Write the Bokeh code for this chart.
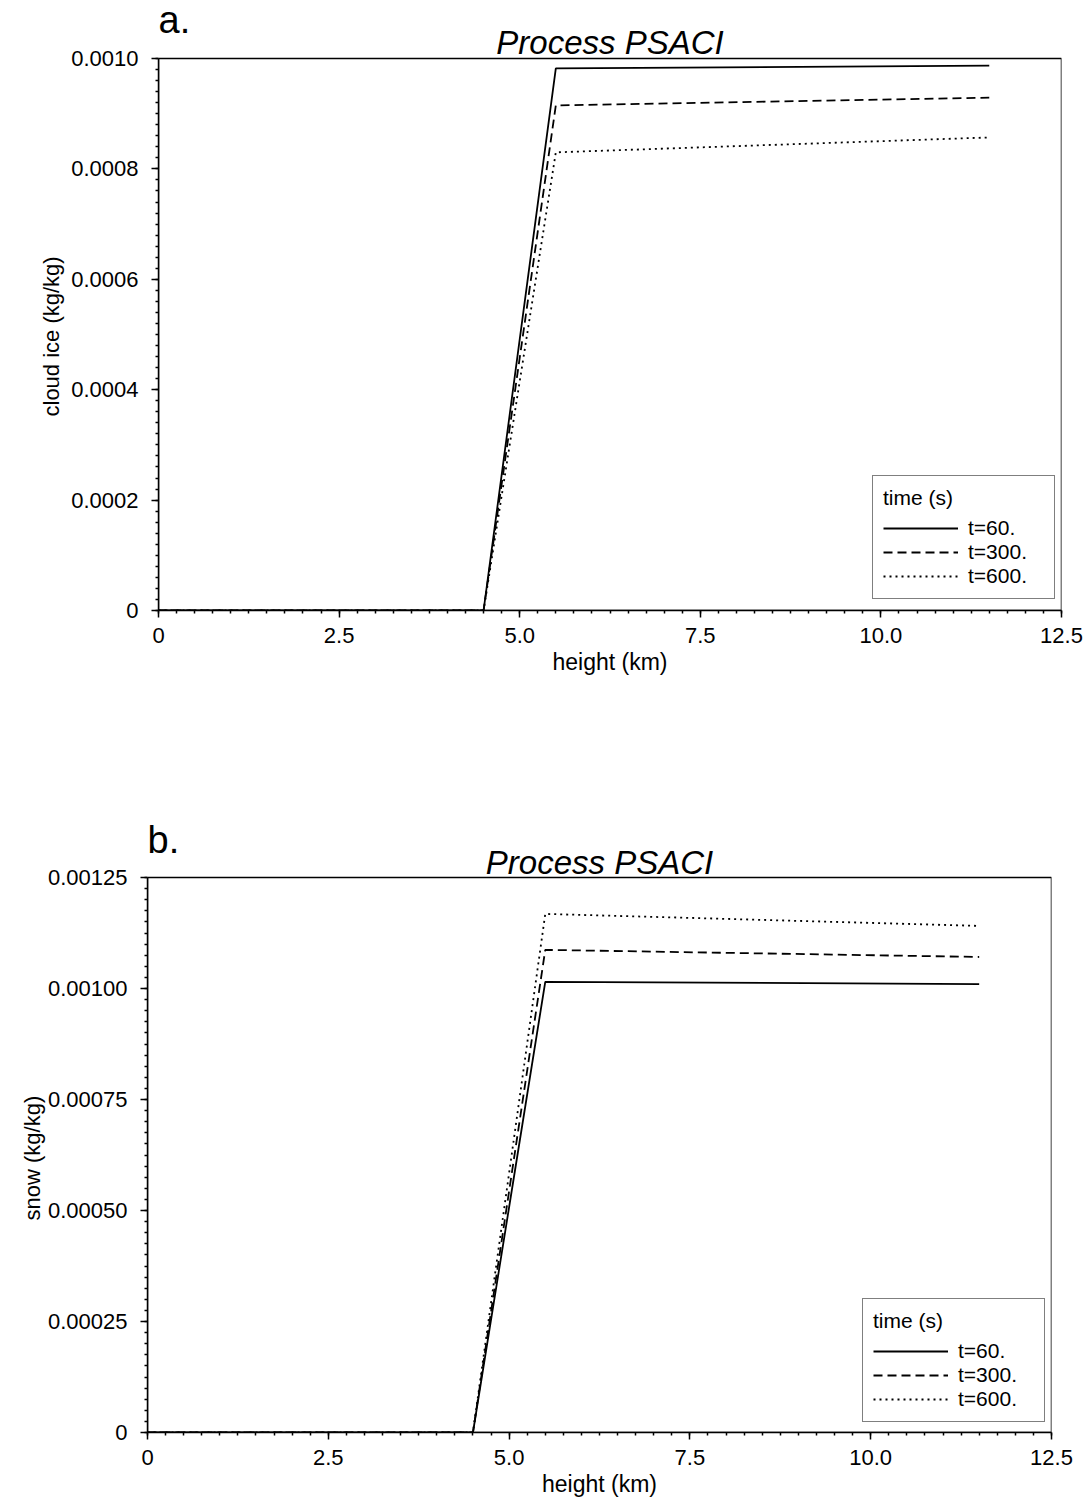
import numpy as np
from bokeh.plotting import figure
from bokeh.models import (Range1d, FixedTicker, CustomJSTickFormatter, Label,
                          Legend, LegendItem, Title)
from bokeh.embed import file_html
from bokeh.resources import INLINE

# ---------------- data ----------------
heights = [0.0, 4.5, 5.5, 11.5]          # km
series_names = ["t=60.", "t=300.", "t=600."]

ice_t60 = [0.0, 0.0, 0.000982, 0.000987]
ice_t300 = [0.0, 0.0, 0.000915, 0.000929]
ice_t600 = [0.0, 0.0, 0.000830, 0.000857]

snow_t60 = [0.0, 0.0, 0.001015, 0.001010]
snow_t300 = [0.0, 0.0, 0.001087, 0.001071]
snow_t600 = [0.0, 0.0, 0.001168, 0.001141]

x_ticks = [0.0, 2.5, 5.0, 7.5, 10.0, 12.5]
ice_ticks = [0.0, 0.0002, 0.0004, 0.0006, 0.0008, 0.0010]
snow_ticks = [0.0, 0.00025, 0.00050, 0.00075, 0.00100, 0.00125]

FONT = "Liberation Sans"
DASHES = ["solid", "9 5", "2 4"]
W = 1091


def make_panel(letter, ylabel, ys, yticks, ydigits, minor_step, h,
               head, box_h, left, right, legend_loc, ylab_standoff,
               ylab_offset, letter_up, title_up):
    """head: pixels between canvas top and the top of the axes box,
    box_h: pixel height of the axes box."""
    ymax = yticks[-1]
    ppu = box_h / ymax
    y_top = ymax + head / ppu          # frame reaches the canvas top
    bottom = h - head - box_h
    p = figure(width=W, height=h, output_backend="svg", toolbar_location=None,
               x_range=Range1d(x_ticks[0], x_ticks[-1]),
               y_range=Range1d(0, y_top),
               min_border_left=left, min_border_right=right,
               min_border_top=0, min_border_bottom=bottom,
               background_fill_color="white", border_fill_color="white")
    p.xgrid.visible = False
    p.ygrid.visible = False
    p.outline_line_color = None

    # the axes box
    p.quad(left=[x_ticks[0]], right=[x_ticks[-1]], bottom=[yticks[0]],
           top=[yticks[-1]], fill_color=None, line_color="black",
           line_width=1.5)

    x_minor = list(np.round(np.arange(0, 12.5 + 1e-9, 0.25), 4))
    y_minor = list(np.arange(0, ymax + minor_step / 2, minor_step))
    p.xaxis.ticker = FixedTicker(ticks=x_ticks, minor_ticks=x_minor)
    p.yaxis.ticker = FixedTicker(ticks=yticks, minor_ticks=y_minor)
    p.yaxis.bounds = (0, ymax)
    p.xaxis.formatter = CustomJSTickFormatter(
        code="return tick == 0 ? '0' : tick.toFixed(1);")
    p.yaxis.formatter = CustomJSTickFormatter(
        code="return tick == 0 ? '0' : tick.toFixed(%d);" % ydigits)

    for ax in (p.xaxis[0], p.yaxis[0]):
        ax.axis_line_color = "black"
        ax.axis_line_width = 1.5
        ax.major_tick_line_color = "black"
        ax.major_tick_line_width = 1.5
        ax.minor_tick_line_color = "black"
        ax.minor_tick_line_width = 1.5
        ax.major_tick_out = 7
        ax.major_tick_in = 0
        ax.minor_tick_out = 3
        ax.minor_tick_in = 0
        ax.major_label_text_font = FONT
        ax.major_label_text_font_size = "22px"
        ax.major_label_text_color = "black"
        ax.axis_label_text_font = FONT
        ax.axis_label_text_font_style = "normal"
        ax.axis_label_text_color = "black"
    p.xaxis.axis_label = "height (km)"
    p.xaxis.axis_label_text_font_size = "23px"
    p.xaxis.major_label_standoff = 10
    p.yaxis.major_label_standoff = 13
    p.xaxis.axis_label_standoff = 3

    # y label as a side title so it can be centred on the axes box
    p.add_layout(Title(text=ylabel, align="left", offset=ylab_offset,
                       standoff=ylab_standoff, text_font=FONT,
                       text_font_size="22px", text_font_style="normal",
                       text_color="black"), "left")

    items = []
    for name, yv, dash in zip(series_names, ys, DASHES):
        r = p.line(heights, yv, line_color="black", line_width=1.8,
                   line_dash=dash)
        items.append(LegendItem(label=name, renderers=[r]))

    leg = Legend(items=items, location=legend_loc, title="time (s)",
                 title_text_font=FONT, title_text_font_size="21px",
                 title_text_font_style="normal", title_text_color="black",
                 title_standoff=6,
                 label_text_font=FONT, label_text_font_size="21px",
                 label_text_color="black", label_width=76,
                 label_standoff=10, glyph_width=75, glyph_height=20,
                 label_height=20, spacing=0, padding=10, margin=0,
                 border_line_color="black", border_line_width=1.5,
                 background_fill_color="white", background_fill_alpha=1.0)
    p.add_layout(leg, "center")

    p.add_layout(Label(x=x_ticks[0], y=ymax + letter_up / ppu, text=letter,
                       text_font=FONT, text_font_size="38px",
                       text_baseline="alphabetic", text_align="left",
                       text_color="black"))
    p.add_layout(Label(x=(x_ticks[0] + x_ticks[-1]) / 2,
                       y=ymax + title_up / ppu, text="Process PSACI",
                       text_font=FONT, text_font_size="33px",
                       text_font_style="italic",
                       text_baseline="alphabetic", text_align="center",
                       text_color="black"))
    return p


pa = make_panel("a.", "cloud ice (kg/kg)", [ice_t60, ice_t300, ice_t600],
                ice_ticks, 4, 0.00002, 740, 58, 552, 158, 30, (714, 11), 10,
                194, 39, 16)
pb = make_panel("b.", "snow  (kg/kg)", [snow_t60, snow_t300, snow_t600],
                snow_ticks, 5, 0.000025, 761, 137, 555, 147, 40, (715, 10), 0,
                212, 38, 15)

open("out.html", "w").write(file_html([pa, pb], INLINE))
